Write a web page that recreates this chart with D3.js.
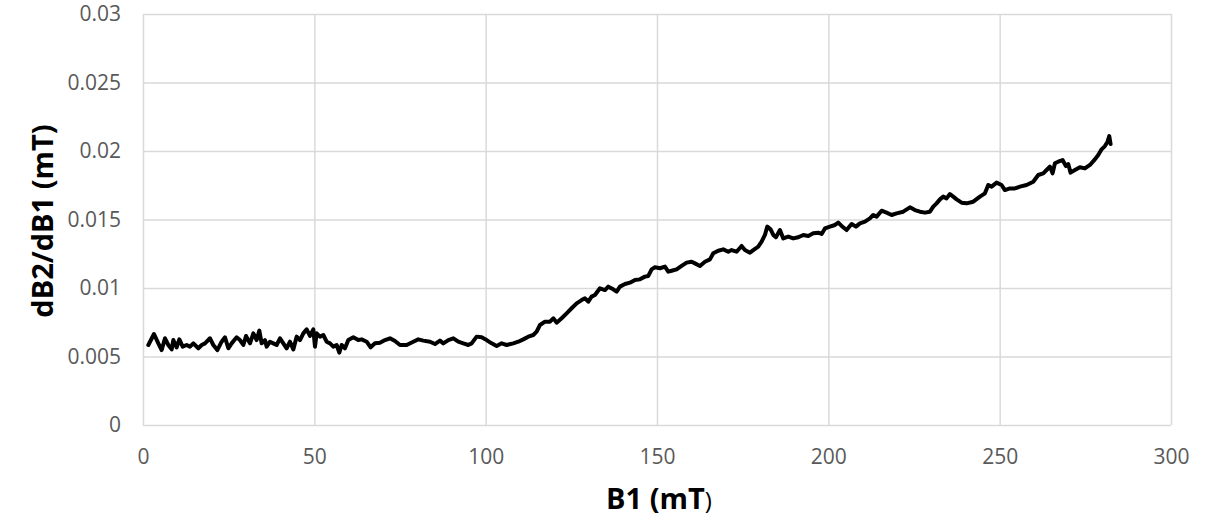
<!DOCTYPE html>
<html>
<head>
<meta charset="utf-8">
<script src="https://cdn.jsdelivr.net/npm/d3@7"></script>
<style>
	body { margin: 0; background: #fff; }
	.grid line { stroke: #d9d9d9; stroke-width: 1.5; }
	.grid path { display: none; }
	.labels path { display: none; }
	.labels text { font-family: "Open Sans", sans-serif; font-size: 21px; fill: #595959; }
	.title { font-family: "Open Sans", sans-serif; font-size: 29px; font-weight: bold; fill: #000; }
</style>
</head>
<body>
<div id="chart"></div>
<script>
var width = 1217,
	height = 524,
	margin = { top: 14, right: 46, bottom: 99, left: 143 };

var xTicks = [0, 50, 100, 150, 200, 250, 300];
var yTicks = [0, 0.005, 0.01, 0.015, 0.02, 0.025, 0.03];
var xTickLabels = ["0", "50", "100", "150", "200", "250", "300"];
var yTickLabels = ["0", "0.005", "0.01", "0.015", "0.02", "0.025", "0.03"];

// B1 (mT)
var b1 = [
	1.56, 3.21, 4.47, 5.45, 6.42, 7.39, 8.37, 8.85, 9.82, 10.6,
	11.58, 12.74, 13.71, 14.69, 16.15, 17.12, 18.09, 19.55, 20.52, 21.69,
	22.95, 23.93, 24.9, 25.87, 27.33, 28.3, 29.28, 30.06, 31.22, 32.2,
	33.17, 33.95, 34.63, 35.6, 36.09, 37.06, 38.03, 39.0, 39.98, 40.95,
	41.92, 42.9, 43.87, 44.84, 45.81, 46.79, 47.76, 48.73, 49.7, 50.19,
	50.68, 51.65, 52.62, 53.59, 54.57, 55.54, 56.51, 57.29, 57.97, 58.94,
	59.92, 61.38, 62.83, 63.81, 65.27, 66.43, 67.7, 69.16, 70.62, 72.08,
	73.53, 74.99, 76.94, 78.88, 80.34, 81.8, 83.75, 85.21, 86.66, 87.64,
	89.1, 90.56, 92.01, 93.47, 94.93, 95.91, 97.36, 98.82, 100.28, 101.74,
	103.2, 104.66, 106.12, 108.06, 109.52, 110.98, 112.44, 113.9, 114.87, 115.85,
	117.3, 118.76, 119.74, 120.71, 122.17, 123.63, 125.09, 126.55, 128.0, 128.98,
	129.95, 130.92, 131.89, 133.35, 134.81, 135.78, 137.24, 138.22, 139.19, 140.65,
	142.11, 143.57, 145.02, 146.48, 147.46, 148.43, 149.4, 150.86, 152.32, 153.29,
	154.27, 155.72, 157.18, 158.64, 160.1, 161.07, 162.53, 163.99, 165.45, 166.42,
	167.88, 169.34, 170.8, 171.77, 173.23, 174.69, 175.66, 177.12, 178.1, 179.55,
	180.53, 181.5, 182.18, 183.15, 183.93, 184.71, 185.88, 186.85, 188.31, 189.77,
	191.23, 192.69, 194.14, 195.6, 197.06, 198.04, 199.01, 200.47, 201.93, 202.9,
	203.87, 205.33, 206.79, 208.05, 209.22, 210.68, 212.14, 213.11, 214.09, 215.54,
	217.0, 218.46, 219.92, 221.86, 223.81, 225.27, 226.73, 228.19, 229.65, 230.62,
	231.59, 232.57, 233.54, 234.51, 235.48, 236.45, 237.43, 238.89, 240.35, 242.29,
	244.24, 245.7, 246.67, 247.64, 249.1, 250.56, 251.53, 252.99, 254.45, 255.91,
	257.85, 259.8, 261.26, 262.72, 263.69, 264.66, 265.44, 266.12, 267.09, 268.36,
	269.33, 270.01, 270.69, 271.96, 273.42, 274.88, 276.34, 277.79, 278.77, 279.74,
	280.71, 281.49, 281.98, 282.37
];

// dB2/dB1 (mT)
var dB = [
	0.00584, 0.00664, 0.00596, 0.00547, 0.00633, 0.00584, 0.00552, 0.0062, 0.00567, 0.00625,
	0.00572, 0.00584, 0.00572, 0.00596, 0.0056, 0.00584, 0.00596, 0.00633, 0.00584, 0.00547,
	0.00608, 0.0064, 0.0056, 0.00596, 0.0064, 0.0062, 0.00584, 0.0065, 0.00596, 0.00669,
	0.0062, 0.00689, 0.00596, 0.0062, 0.00572, 0.00608, 0.00596, 0.00584, 0.00633, 0.00596,
	0.0056, 0.00608, 0.00552, 0.00645, 0.0062, 0.00669, 0.00698, 0.0065, 0.00698, 0.00572,
	0.00669, 0.00645, 0.00657, 0.00608, 0.00596, 0.00572, 0.00584, 0.00528, 0.00584, 0.0056,
	0.0062, 0.0064, 0.0062, 0.00625, 0.00608, 0.00567, 0.00596, 0.00601, 0.0062, 0.00633,
	0.00613, 0.00584, 0.00584, 0.00608, 0.00625, 0.00616, 0.00608, 0.00591, 0.00616, 0.00596,
	0.0062, 0.00633, 0.00608, 0.00596, 0.00584, 0.00596, 0.00645, 0.0064, 0.0062, 0.00596,
	0.00577, 0.00596, 0.00584, 0.00596, 0.00608, 0.00625, 0.00645, 0.00657, 0.00681, 0.0073,
	0.00754, 0.00754, 0.00779, 0.00747, 0.00779, 0.00815, 0.00852, 0.00888, 0.00912, 0.00925,
	0.009, 0.00937, 0.00949, 0.00998, 0.00985, 0.0101, 0.0099, 0.00973, 0.0101, 0.01029,
	0.01039, 0.01058, 0.01063, 0.01083, 0.01088, 0.01136, 0.01151, 0.01144, 0.01156, 0.01119,
	0.01126, 0.01136, 0.01161, 0.01185, 0.01192, 0.0118, 0.01161, 0.01192, 0.01209, 0.01253,
	0.01272, 0.01282, 0.01265, 0.01277, 0.01265, 0.01307, 0.01277, 0.01258, 0.01277, 0.01302,
	0.01338, 0.01387, 0.01448, 0.01428, 0.01387, 0.0137, 0.01423, 0.01362, 0.01375, 0.01362,
	0.0137, 0.01387, 0.0138, 0.01399, 0.01404, 0.01394, 0.01435, 0.01448, 0.0146, 0.01477,
	0.01453, 0.01423, 0.01467, 0.01448, 0.01472, 0.01484, 0.01508, 0.01533, 0.01521, 0.01564,
	0.0155, 0.01533, 0.01545, 0.01557, 0.01589, 0.01569, 0.01557, 0.0155, 0.01557, 0.01594,
	0.01618, 0.01647, 0.01667, 0.01654, 0.01686, 0.01667, 0.01647, 0.01623, 0.01618, 0.0163,
	0.01667, 0.01691, 0.01752, 0.0174, 0.01769, 0.01752, 0.01715, 0.01727, 0.01727, 0.0174,
	0.01752, 0.01776, 0.01825, 0.01837, 0.01861, 0.01886, 0.01837, 0.0191, 0.01922, 0.01934,
	0.0189, 0.01905, 0.01842, 0.01861, 0.01881, 0.01873, 0.01898, 0.01939, 0.01971, 0.02012,
	0.02036, 0.02068, 0.02109, 0.02051
];

var svgContainer = d3.select("#chart")
	.append("svg")
	.attr("width", width)
	.attr("height", height);

var xScale = d3.scaleLinear().domain([0, 300]).range([margin.left, width - margin.right]);
var yScale = d3.scaleLinear().domain([0, 0.03]).range([height - margin.bottom, margin.top]);

var plotW = width - margin.left - margin.right,
	plotH = height - margin.top - margin.bottom;

// gridlines
svgContainer.append("g")
	.attr("class", "grid")
	.attr("transform", "translate(0," + (height - margin.bottom) + ")")
	.call(d3.axisBottom(xScale).tickValues(xTicks).tickSize(-plotH).tickFormat(""));

svgContainer.append("g")
	.attr("class", "grid")
	.attr("transform", "translate(" + margin.left + ",0)")
	.call(d3.axisLeft(yScale).tickValues(yTicks).tickSize(-plotW).tickFormat(""));

// tick labels
svgContainer.append("g")
	.attr("class", "labels")
	.attr("transform", "translate(0," + (height - margin.bottom) + ")")
	.call(d3.axisBottom(xScale).tickValues(xTicks).tickSize(0).tickPadding(24)
		.tickFormat(function(d, i) { return xTickLabels[i]; }));

svgContainer.append("g")
	.attr("class", "labels")
	.attr("transform", "translate(" + margin.left + ",0)")
	.call(d3.axisLeft(yScale).tickValues(yTicks).tickSize(0).tickPadding(22)
		.tickFormat(function(d, i) { return yTickLabels[i]; }));

// the curve
var line = d3.line()
	.x(function(d, i) { return xScale(b1[i]); })
	.y(function(d) { return yScale(d); });

svgContainer.append("path")
	.datum(dB)
	.attr("d", line)
	.attr("fill", "none")
	.attr("stroke", "#000")
	.attr("stroke-width", 4)
	.attr("stroke-linejoin", "round")
	.attr("stroke-linecap", "round");

// axis titles
var xTitle = svgContainer.append("text")
	.attr("class", "title")
	.attr("x", 659)
	.attr("y", 509)
	.attr("text-anchor", "middle");
xTitle.append("tspan").text("B1 (mT");
xTitle.append("tspan").attr("font-weight", "normal").attr("font-size", "24px").text(")");

svgContainer.append("text")
	.attr("class", "title")
	.attr("transform", "translate(53,221) rotate(-90)")
	.attr("text-anchor", "middle")
	.text("dB2/dB1 (mT)");
</script>
</body>
</html>
